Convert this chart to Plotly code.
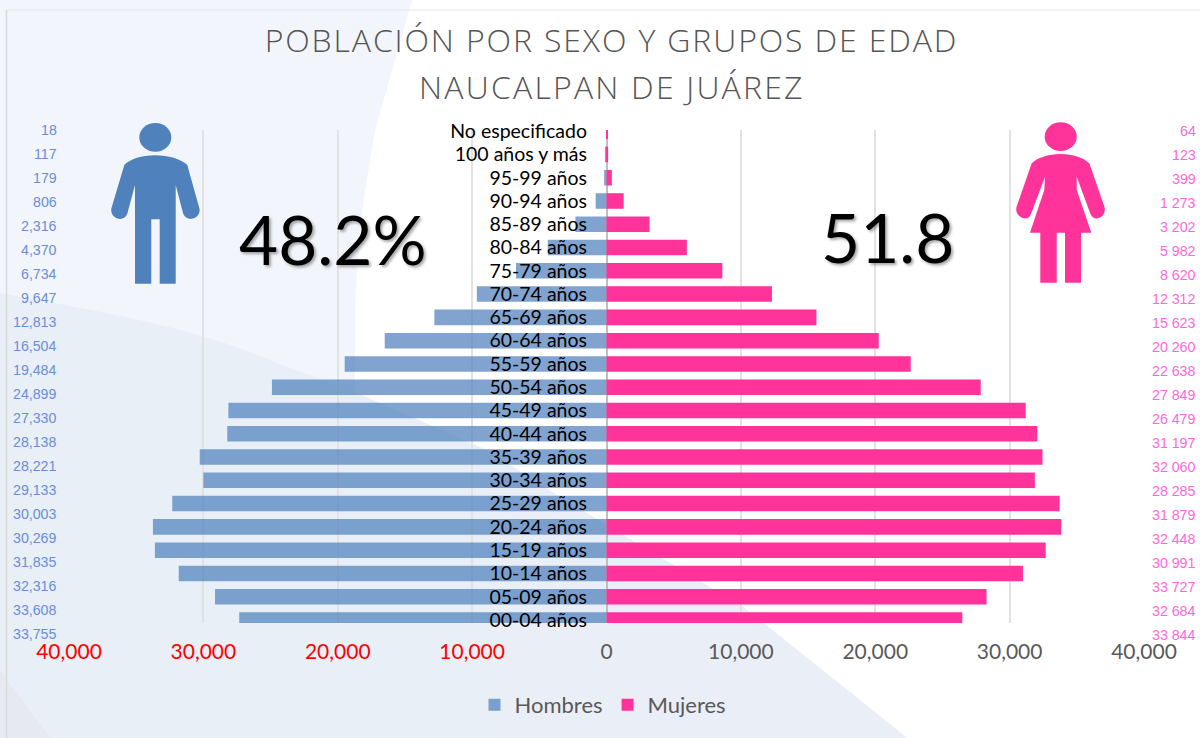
import plotly.graph_objects as go

categorias = ["No especificado", "100 años y más", "95-99 años", "90-94 años", "85-89 años", "80-84 años",
              "75-79 años", "70-74 años", "65-69 años", "60-64 años", "55-59 años", "50-54 años",
              "45-49 años", "40-44 años", "35-39 años", "30-34 años", "25-29 años", "20-24 años",
              "15-19 años", "10-14 años", "05-09 años", "00-04 años"]
hombres = [18, 117, 179, 806, 2316, 4370, 6734, 9647, 12813, 16504, 19484, 24899,
           28138, 28221, 30269, 30003, 32316, 33755, 33608, 31835, 29133, 27330]
mujeres = [64, 123, 399, 1273, 3202, 5982, 8620, 12312, 15623, 20260, 22638, 27849,
           31197, 32060, 32448, 31879, 33727, 33844, 32684, 30991, 28285, 26479]
etiquetas_izq = ["18", "117", "179", "806", "2,316", "4,370", "6,734", "9,647", "12,813", "16,504", "19,484",
                 "24,899", "27,330", "28,138", "28,221", "29,133", "30,003", "30,269", "31,835", "32,316",
                 "33,608", "33,755"]
etiquetas_der = ["64", "123", "399", "1 273", "3 202", "5 982", "8 620", "12 312", "15 623", "20 260", "22 638",
                 "27 849", "26 479", "31 197", "32 060", "28 285", "31 879", "32 448", "30 991", "33 727",
                 "32 684", "33 844"]
ticks_x = [-40000, -30000, -20000, -10000, 0, 10000, 20000, 30000, 40000]
ticks_txt = ['<span style="color:#ff0000">40,000</span>', '<span style="color:#ff0000">30,000</span>',
             '<span style="color:#ff0000">20,000</span>', '<span style="color:#ff0000">10,000</span>',
             '0', '10,000', '20,000', '30,000', '40,000']
titulo_1 = "POBLACIÓN POR SEXO Y GRUPOS DE EDAD"
titulo_2 = "NAUCALPAN DE JUÁREZ"

W, H = 1200, 738
L, R, T, B = 69, 1144, 130, 623
px = lambda x: (x - L) / (R - L)
py = lambda y: (B - y) / (B - T)


def path(d):
    s = ""
    for tok in d.split():
        if tok[0].isalpha():
            s += tok
        else:
            a, b = tok.split(",")
            s += f"{px(float(a)):.5f},{py(float(b)):.5f} "
    return s.strip()


def bg(d, color, layer="below"):
    return dict(type="path", xref="paper", yref="paper", path=path(d), fillcolor=color,
                line=dict(width=0), layer=layer)


shapes = [
    bg("M 0,0 L 412,0 L 395,60 L 375,130 L 362,210 L 355,300 L 355,392 L 0,392 Z", "#f2f5fc"),
    bg("M 0,293 C 100,312 190,325 277,363 L 355,392 L 487,450 L 560,497 L 743,607 L 860,700 L 907,738 "
       "L 0,738 Z", "#e9eff7"),
    bg("M 487,450 L 560,497 L 743,607 L 860,700 L 907,738 L 487,738 Z", "#eaeef7"),
    bg("M 0,670 L 50,738 L 0,738 Z", "#e6e9ef"),
    dict(type="line", xref="paper", yref="paper", x0=px(6.5), x1=px(6.5), y0=py(10), y1=py(738),
         line=dict(color="#d9d9d9", width=1.5), layer="below"),
    dict(type="line", xref="paper", yref="paper", x0=px(6.5), x1=px(1200), y0=py(10), y1=py(10),
         line=dict(color="#e6e6e6", width=1), layer="below"),
    # Hombre
    dict(type="circle", xref="paper", yref="paper", x0=px(139.3), x1=px(171.3), y0=py(123), y1=py(151.8),
         fillcolor="#4f81bd", line=dict(width=0), layer="above"),
    bg("M 155,155.3 C 142,155.3 130,159 124.3,165 L 111.5,208 C 109,218 124,224 127.5,213 L 135,185 L 135,283.7 "
       "L 151.3,283.7 L 151.3,219.3 L 159.7,219.3 L 159.7,283.7 L 175.7,283.7 L 175.7,185 L 183,213 "
       "C 187,224 202,218 199.3,208 L 187.3,165 C 181,159 168,155.3 155,155.3 Z", "#4f81bd", "above"),
    # Mujer
    dict(type="circle", xref="paper", yref="paper", x0=px(1044.7), x1=px(1076.7), y0=py(122.3), y1=py(151),
         fillcolor="#ff3399", line=dict(width=0), layer="above"),
    bg("M 1060.7,154 C 1048,154 1037,158 1031.7,163.3 L 1016.5,207 C 1014,217 1028,223 1031,214 L 1045,176.7 "
       "L 1044.3,190 L 1030,232.7 L 1040.3,232.7 L 1040.3,282.7 L 1056.7,282.7 L 1056.7,232.7 L 1065,232.7 "
       "L 1065,282.7 L 1081,282.7 L 1081,232.7 L 1091.3,232.7 L 1076.7,190 L 1076.7,176.7 L 1090.5,214 "
       "C 1094,223 1107,217 1104.5,207 L 1089.3,163.3 C 1084,158 1073,154 1060.7,154 Z", "#ff3399", "above"),
]

fig = go.Figure()
fig.add_bar(y=categorias, x=[-v for v in hombres], name="Hombres", orientation="h",
            marker=dict(color="rgba(79,129,189,0.72)", line=dict(width=0)), width=0.667)
fig.add_bar(y=categorias, x=mujeres, name="Mujeres", orientation="h",
            marker=dict(color="#ff3399", line=dict(width=0)), width=0.667)

annotations = []
for i, t in enumerate(etiquetas_izq):
    annotations.append(dict(xref="paper", yref="paper", x=px(59), y=py(130 + 24 * i), text=t, showarrow=False,
                            xanchor="right", yanchor="middle",
                            font=dict(family="Liberation Sans", size=14.2, color="#6b8dd8")))
for i, t in enumerate(etiquetas_der):
    annotations.append(dict(xref="paper", yref="paper", x=px(1198), y=py(131 + 24 * i), text=t, showarrow=False,
                            xanchor="right", yanchor="middle",
                            font=dict(family="Liberation Sans", size=14.2, color="#ff66dd")))
big = dict(family="Lato", size=67.5, color="#000000", shadow="2px 2px 3px rgba(0,0,0,0.35)")
annotations.append(dict(xref="paper", yref="paper", x=px(332.5), y=py(238), text="48.2%", showarrow=False,
                        xanchor="center", yanchor="middle", font=big))
annotations.append(dict(xref="paper", yref="paper", x=px(887), y=py(236), text="51.8", showarrow=False,
                        xanchor="center", yanchor="middle", font=big))
fuente_titulo = dict(family="Open Sans", size=32, color="#555555", weight=300)
annotations.append(dict(xref="paper", yref="paper", x=px(611.5), y=py(86),
                        text='<span style="letter-spacing:2.2px">%s</span>' % titulo_2,
                        showarrow=False, xanchor="center", yanchor="middle", font=fuente_titulo))

fig.update_layout(
    width=W, height=H, margin=dict(l=L, r=W - R, t=T, b=H - B),
    paper_bgcolor="#ffffff", plot_bgcolor="rgba(0,0,0,0)",
    barmode="overlay", shapes=shapes, annotations=annotations,
    title=dict(text='<span style="letter-spacing:1.87px">%s</span>' % titulo_1, x=611.5 / W, xanchor="center",
               y=1 - 41 / H, yanchor="middle", font=fuente_titulo),
    legend=dict(orientation="h", x=(603 - L) / (R - L), xanchor="center", y=py(705), yanchor="middle",
                font=dict(family="Lato", size=22, color="#595959"), bgcolor="rgba(0,0,0,0)"),
    xaxis=dict(range=[-40000, 40000], tickmode="array", tickvals=ticks_x, ticktext=ticks_txt,
               showgrid=True, gridcolor="#e2e2e2", gridwidth=1.5, zeroline=True, zerolinecolor="#bfbfbf",
               zerolinewidth=1.5, showline=False, ticks="", ticklabelstandoff=14,
               tickfont=dict(family="Lato", size=21, color="#595959")),
    yaxis=dict(type="category", categoryorder="array", categoryarray=categorias, range=[21.13, -0.05],
               anchor="free", position=(587 - L) / (R - L), showgrid=False, showline=False, zeroline=False,
               ticks="", tickfont=dict(family="Lato", size=19.5, color="#000000")),
)
fig.write_html("out.html", config=dict(displayModeBar=False),
               post_script="document.body.style.margin='0';document.body.style.overflow='hidden';")
